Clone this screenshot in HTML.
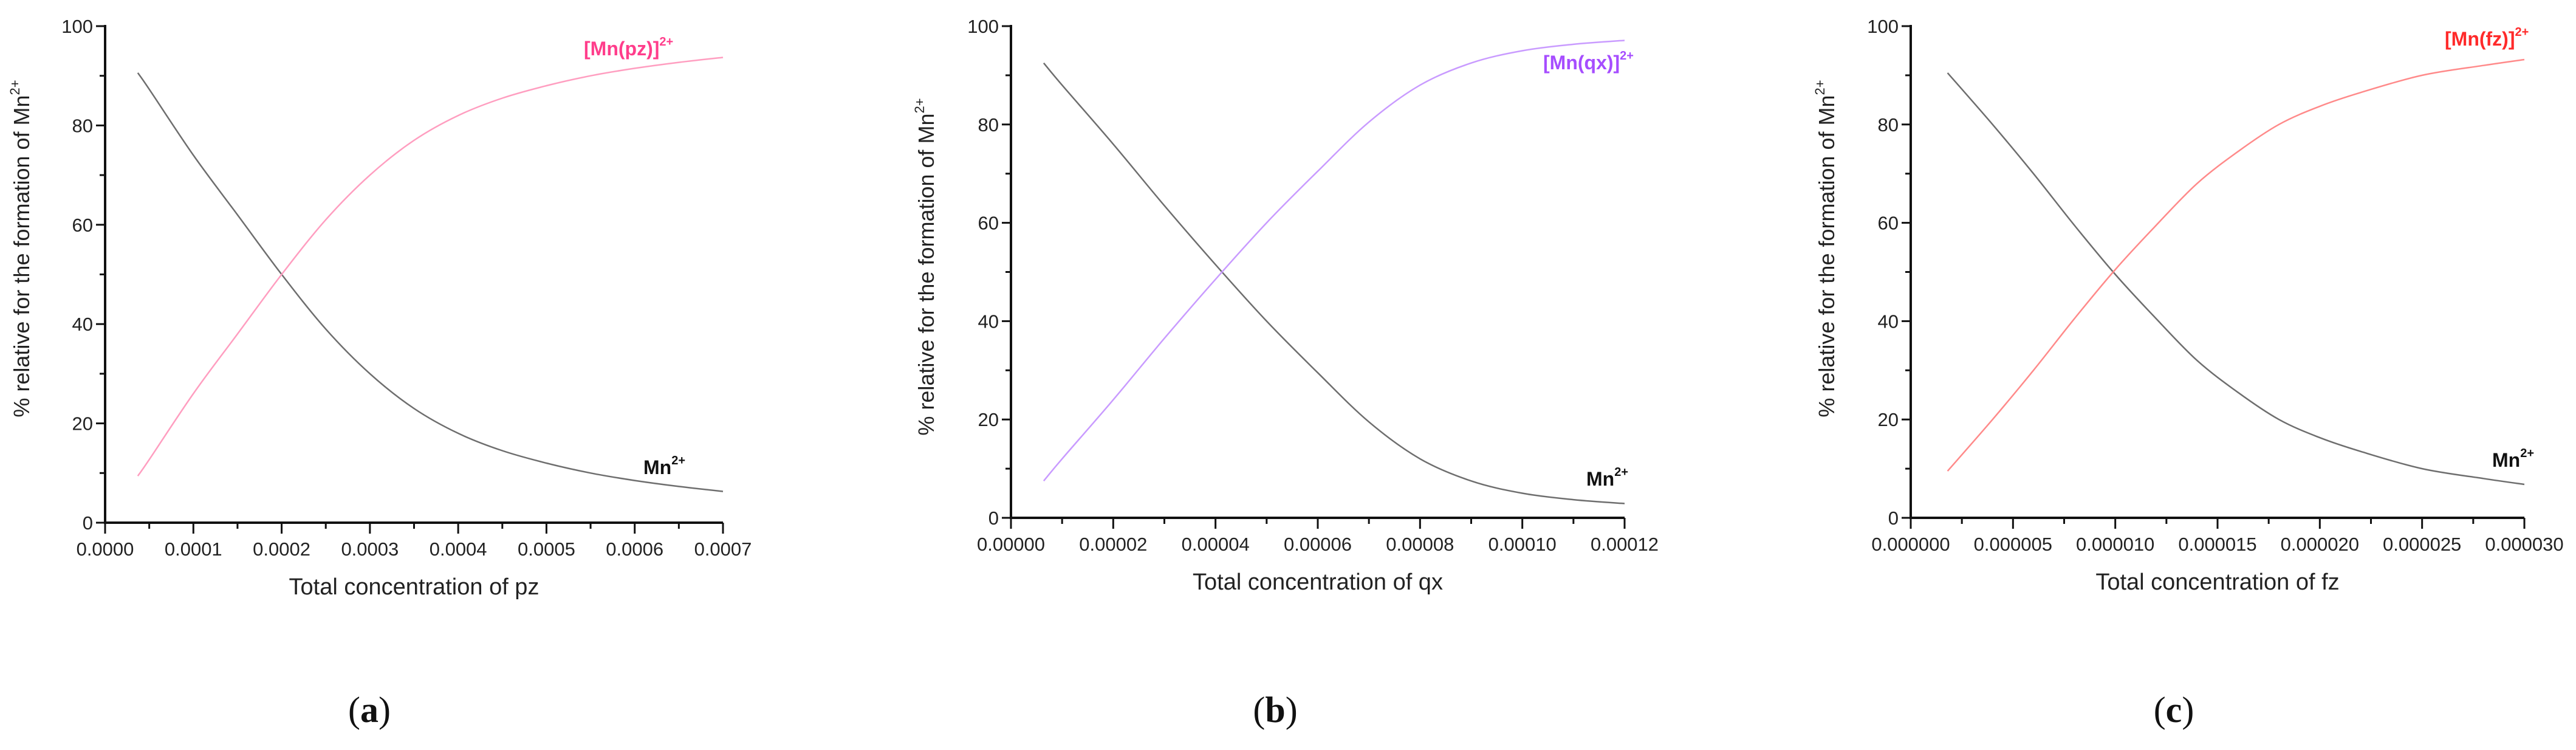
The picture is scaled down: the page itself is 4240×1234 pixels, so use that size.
<!DOCTYPE html>
<html><head><meta charset="utf-8"><style>
html,body{margin:0;padding:0;background:#fff;}
svg{display:block;font-family:"Liberation Sans",Arial,sans-serif;}
</style></head><body>
<svg id="fig" width="4240" height="1234" viewBox="0 0 4240 1234" xmlns="http://www.w3.org/2000/svg"></svg>
<script>
// Panel (a)
const aX = [0.000037,0.00005,0.0001,0.00015,0.0002,0.00025,0.0003,0.00035,0.0004,0.00045,0.0005,0.00055,0.0006,0.00065,0.0007];
const aMn = [90.6,87.3,74,62,50,39,30,23,18,14.5,12,10,8.5,7.3,6.3];
const aCx = [9.4,12.7,26,38,50,61,70,77,82,85.5,88,90,91.5,92.7,93.7];
const aTicks = ["0.0000","0.0001","0.0002","0.0003","0.0004","0.0005","0.0006","0.0007"];
// Panel (b)
const bX = [0.0000064,0.00001,0.00002,0.00003,0.00004,0.00005,0.00006,0.00007,0.00008,0.00009,0.0001,0.00011,0.00012];
const bMn = [92.5,88,76,63.5,51.5,40,29.5,19.5,12,7.5,5,3.7,2.9];
const bCx = [7.5,12,24,36.5,48.5,60,70.5,80.5,88,92.5,95,96.3,97.1];
const bTicks = ["0.00000","0.00002","0.00004","0.00006","0.00008","0.00010","0.00012"];
// Panel (c)
const cX = [0.0000018,0.000004,0.000006,0.000008,0.00001,0.000012,0.000014,0.000016,0.000018,0.00002,0.000022,0.000025,0.000028,0.00003];
const cMn = [90.5,80,70,59.5,49.5,40.5,32,25.5,20,16.3,13.5,10,8,6.8];
const cCx = [9.5,20,30,40.5,50.5,59.5,68,74.5,80,83.7,86.5,90,92,93.2];
const cTicks = ["0.000000","0.000005","0.000010","0.000015","0.000020","0.000025","0.000030"];
const yTicks = [0,20,40,60,80,100];

const NS="http://www.w3.org/2000/svg";
const svg=document.getElementById('fig');
function mk(tag,attrs,parent){const e=document.createElementNS(NS,tag);for(const k in attrs)e.setAttribute(k,attrs[k]);(parent||svg).appendChild(e);return e;}

function smoothPath(pts){
  let d='M'+pts[0][0].toFixed(1)+','+pts[0][1].toFixed(1);
  for(let i=0;i<pts.length-1;i++){
    const p0=pts[i-1]||pts[i],p1=pts[i],p2=pts[i+1],p3=pts[i+2]||p2;
    const c1x=p1[0]+(p2[0]-p0[0])/6,c1y=p1[1]+(p2[1]-p0[1])/6;
    const c2x=p2[0]-(p3[0]-p1[0])/6,c2y=p2[1]-(p3[1]-p1[1])/6;
    d+=` C${c1x.toFixed(1)},${c1y.toFixed(1)} ${c2x.toFixed(1)},${c2y.toFixed(1)} ${p2[0].toFixed(1)},${p2[1].toFixed(1)}`;
  }
  return d;
}

function panel(p){
  const g=mk('g',{});
  
  
  const xs=v=>p.x0+(v-0)/(p.xmax)*(p.x1-p.x0);
  const ys=v=>p.y0-(v/100)*(p.y0-p.y1);
  const ax=mk('path',{d:`M${p.x0},${p.y1-2} L${p.x0},${p.y0} L${p.x1},${p.y0}`,fill:'none',stroke:'#111','stroke-width':4},g);
  
  
  for(let v=0;v<=100;v+=10){
    const major=v%20===0;
    mk('line',{x1:p.x0-(major?15:9),x2:p.x0,y1:ys(v),y2:ys(v),stroke:'#111','stroke-width':3},g);
  }
  yTicks.forEach(v=>{
    const t=mk('text',{x:p.x0-20,y:ys(v)+11,'text-anchor':'end','font-size':31,fill:'#222'},g);
    t.textContent=v;
    
    
  });
  const n=p.ticks.length-1;
  for(let i=0;i<=2*n;i++){
    const v=p.xmax*i/(2*n);const major=i%2===0;
    mk('line',{x1:xs(v),x2:xs(v),y1:p.y0,y2:p.y0+(major?18:10),stroke:'#111','stroke-width':3},g);
  }
  p.ticks.forEach((s,i)=>{
    const t=mk('text',{x:xs(p.xmax*i/n),y:p.y0+54,'text-anchor':'middle','font-size':31,fill:'#222'},g);
    t.textContent=s;
    
    
  });
  const xt=mk('text',{x:(p.x0+p.x1)/2,y:p.y0+118,'text-anchor':'middle','font-size':38,fill:'#222'},g);
  xt.textContent='Total concentration of '+p.lig;
  
  
  const yt=mk('text',{transform:`translate(${p.ytx},${p.yty}) rotate(-90)`,'text-anchor':'middle','font-size':36,fill:'#222'},g);
  yt.innerHTML='% relative for the formation of Mn<tspan dy="-16" font-size="22">2+</tspan>';
  
  
  const line=(xsArr,vals,col,name)=>{
    const pts=xsArr.map((v,i)=>[xs(v),ys(vals[i])]);
    const l=mk('path',{d:smoothPath(pts),fill:'none',stroke:col,'stroke-width':2.5,'stroke-linejoin':'round'},g);
    
    
  };
  line(p.X,p.Mn,'#6e6e6e','mn-free-line');
  line(p.X,p.Cx,p.lineCol,'complex-line');
  const cl=mk('text',{x:p.clx,y:p.cly,'font-size':32,'font-weight':'bold',fill:p.txtCol},g);
  cl.innerHTML=`[Mn(${p.lig})]<tspan dy="-16" font-size="20">2+</tspan>`;
  
  
  const ml=mk('text',{x:p.mlx,y:p.mly,'font-size':32,'font-weight':'bold',fill:'#111'},g);
  ml.innerHTML='Mn<tspan dy="-16" font-size="20">2+</tspan>';
  
  
  const pl=mk('text',{x:p.plx,y:1188,'text-anchor':'middle','font-size':60,'font-family':'Liberation Serif, serif',fill:'#111'},g);
  pl.innerHTML=`(<tspan font-weight="bold">${p.id}</tspan>)`;
  
  
}
panel({id:'a',lig:'pz',x0:173,x1:1190,y0:860,y1:43,xmax:0.0007,ticks:aTicks,X:aX,Mn:aMn,Cx:aCx,
  lineCol:'#ff9ec0',txtCol:'#ff3d8b',clx:961,cly:91,mlx:1059,mly:780,ytx:48,yty:409,plx:608});
panel({id:'b',lig:'qx',x0:1664,x1:2674,y0:852,y1:43,xmax:0.00012,ticks:bTicks,X:bX,Mn:bMn,Cx:bCx,
  lineCol:'#c99bff',txtCol:'#a64dff',clx:2540,cly:114,mlx:2611,mly:799,ytx:1537,yty:439,plx:2099});
panel({id:'c',lig:'fz',x0:3145,x1:4155,y0:852,y1:43,xmax:0.00003,ticks:cTicks,X:cX,Mn:cMn,Cx:cCx,
  lineCol:'#ff8a8a',txtCol:'#ff2a2a',clx:4024,cly:75,mlx:4102,mly:768,ytx:3019,yty:409,plx:3578});
</script>
</body></html>
